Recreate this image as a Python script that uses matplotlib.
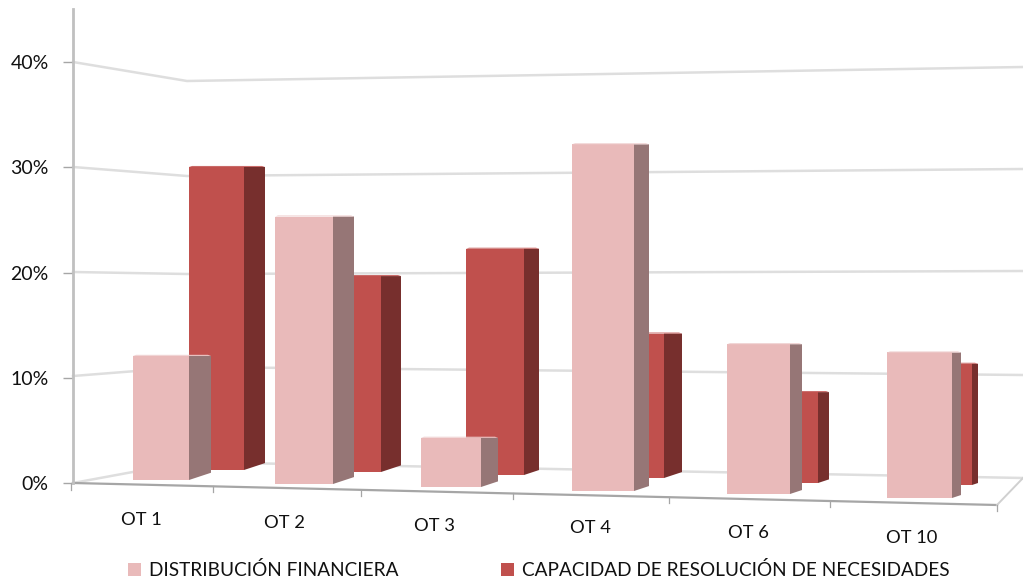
import matplotlib
matplotlib.use("Agg")
import matplotlib.pyplot as plt
from matplotlib.patches import Polygon, Patch

# ---- data ----
categories = ["OT 1", "OT 2", "OT 3", "OT 4", "OT 6", "OT 10"]
series_names = ["DISTRIBUCIÓN FINANCIERA", "CAPACIDAD DE RESOLUCIÓN DE NECESIDADES"]
distribucion = [11.6, 25.0, 4.6, 32.4, 14.0, 13.6]
capacidad = [30.0, 19.4, 22.4, 14.3, 9.0, 12.0]
y_ticks = [0, 10, 20, 30, 40]
y_labels = ["0%", "10%", "20%", "30%", "40%"]

# ---- layout (pixels of the reference) ----
W, H = 1023, 582
Y0, PX = 483.0, 10.525          # pixel of 0 %, pixels per % on the y axis
FRONT_K, BACK_K = 10.7, 10.1    # pixels per % for the near and far row
def py(p):
    return (Y0 - p) / PX

front_left = [133, 275, 421, 572, 727, 887]
front_right = [189, 333, 481, 634, 790, 952]
front_side = [211, 354, 498, 649, 802, 961]
front_base = [480, 484, 487, 491, 494, 498]
back_left = [189, 325, 466, 606, 758, 911]
back_right = [244, 381, 524, 664, 818, 972]
back_side = [265, 401, 539, 682, 829, 978]
back_base = [470, 472, 475, 478, 483, 485]

grid_paths = {
    40: ([73, 187, 1023], [62, 81, 67]),
    30: ([73, 187, 1023], [167, 176, 169]),
    20: ([73, 187, 1023], [272, 274, 271]),
    10: ([73, 187, 1023], [376, 367, 375]),
    0: ([73, 187, 1023], [483, 462, 478]),
}
floor_x = [73, 997, 1023]
floor_y = [483, 505, 478]
xtick_x = [71, 213, 361, 513, 669, 830, 997]
xtick_y = [484, 486, 490, 493, 497, 501, 505]
label_x = [141, 285, 435, 590, 748, 912]
label_y = [520, 523, 526, 528, 533, 538]

C_PINK, C_PINK_SIDE, C_PINK_TOP = "#e9baba", "#967676", "#efcfcf"
C_RED, C_RED_SIDE, C_RED_TOP = "#c0504d", "#772f2d", "#c96a68"

plt.rcParams["font.family"] = ["Lato", "DejaVu Sans"]
fig = plt.figure(figsize=(W / 100, H / 100), dpi=100)
ax = fig.add_axes([0, 0, 1, 1])
ax.set_xlim(0, W)
ax.set_ylim(py(H), py(0))

# axes
for s in ["top", "right", "bottom"]:
    ax.spines[s].set_visible(False)
ax.spines["left"].set_position(("data", 73))
ax.spines["left"].set_bounds(py(483), py(9))
ax.spines["left"].set_color("#c0c0c0")
ax.spines["left"].set_linewidth(2.0)
ax.set_xticks([])
ax.set_yticks(y_ticks)
ax.set_yticklabels(y_labels, fontsize=14, color="#111111")
ax.tick_params(axis="y", length=7, width=1, color="#a6a6a6", pad=10.5)

# walls and floor
for v, (xs, ys) in grid_paths.items():
    ax.plot(xs, [py(a) for a in ys], color="#dedede", lw=1.8, zorder=1)
ax.plot(floor_x[:2], [py(a) for a in floor_y[:2]], color="#a6a6a6", lw=1.6, zorder=1.5)
ax.plot(floor_x[1:], [py(a) for a in floor_y[1:]], color="#d0d0d0", lw=1.4, zorder=1.5)
for x, y in zip(xtick_x, xtick_y):
    ax.plot([x, x], [py(y), py(y + 6)], color="#a6a6a6", lw=0.9, zorder=1.5)


def draw_row(values, k, left, right, side, base, face, side_c, top_c, z):
    for v, l, r, s, b in zip(values, left, right, side, base):
        h = v * k / PX
        bottom = py(b)
        topv = bottom + h
        rise = (s - r) * 0.33 / PX
        ax.bar(l, h, width=r - l, bottom=bottom, align="edge", color=face, lw=0, zorder=z)
        ax.add_patch(Polygon([(r, topv), (s, topv), (s, bottom + rise), (r, bottom)],
                             closed=True, fc=side_c, ec="none", zorder=z))
        ax.add_patch(Polygon([(l, topv), (r, topv), (s, topv), (s - 3, topv + 0.1), (l + 3, topv + 0.1)],
                             closed=True, fc=top_c, ec="none", zorder=z))


draw_row(capacidad, BACK_K, back_left, back_right, back_side, back_base,
         C_RED, C_RED_SIDE, C_RED_TOP, 3)
draw_row(distribucion, FRONT_K, front_left, front_right, front_side, front_base,
         C_PINK, C_PINK_SIDE, C_PINK_TOP, 4)

for name, x, y in zip(categories, label_x, label_y):
    ax.text(x, py(y), name, ha="center", va="center", fontsize=13.2, color="#111111")

handles = [Patch(fc=C_PINK, ec="none", label=series_names[0]),
           Patch(fc=C_RED, ec="none", label=series_names[1])]
ax.legend(handles=handles, ncol=2, loc="center left", bbox_to_anchor=(128 / W, 1 - 570 / H),
          bbox_transform=ax.transAxes, frameon=False, fontsize=13.7,
          handlelength=0.7, handleheight=0.7, handletextpad=0.42,
          columnspacing=5.36, borderpad=0, borderaxespad=0, labelcolor="#111111")

fig.savefig("out.png", dpi=100, facecolor="white")
